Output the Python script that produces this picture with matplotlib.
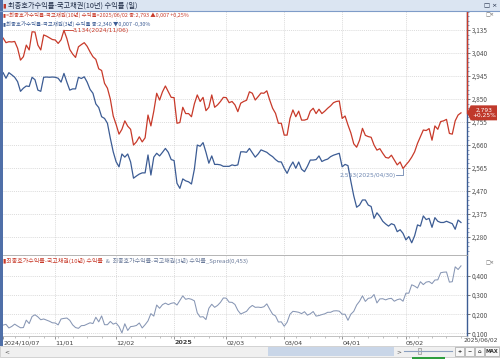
import numpy as np
import pandas as pd
import matplotlib
matplotlib.use("Agg")
import matplotlib.pyplot as plt
from matplotlib.patches import Rectangle, Polygon
from matplotlib.lines import Line2D
import matplotlib.ticker as mticker

plt.rcParams['font.family'] = ['Noto Sans CJK KR', 'DejaVu Sans']

# ---------------- data ----------------
holidays = ["2024-10-09", "2024-12-25", "2024-12-31", "2025-01-01", "2025-01-27",
            "2025-01-28", "2025-01-29", "2025-01-30", "2025-03-03", "2025-05-01",
            "2025-05-05", "2025-05-06"]
dates = [d for d in pd.bdate_range("2024-10-07", "2025-06-02")
         if d.strftime("%Y-%m-%d") not in holidays]

# KTB 10y final-quote yield (%)
ktb10 = [3.102, 3.083, 3.087, 3.086, 3.088, 3.060, 3.011, 3.025, 3.073, 3.053,
         3.128, 3.127, 3.073, 3.053, 3.115, 3.110, 3.103, 3.096, 3.094, 3.080,
         3.095, 3.134, 3.100, 3.055, 3.036, 3.022, 3.066, 3.075, 3.083, 3.068,
         3.045, 3.025, 3.014, 2.975, 2.968, 2.915, 2.895, 2.850, 2.780, 2.745,
         2.705, 2.725, 2.760, 2.738, 2.725, 2.660, 2.673, 2.694, 2.673, 2.690,
         2.784, 2.739, 2.800, 2.874, 2.846, 2.880, 2.904, 2.880, 2.857, 2.856,
         2.750, 2.753, 2.816, 2.790, 2.790, 2.777, 2.830, 2.867, 2.840, 2.857,
         2.802, 2.816, 2.867, 2.816, 2.826, 2.840, 2.857, 2.856, 2.835, 2.840,
         2.826, 2.798, 2.833, 2.840, 2.845, 2.880, 2.874, 2.846, 2.860, 2.875,
         2.874, 2.884, 2.846, 2.812, 2.791, 2.750, 2.750, 2.701, 2.701, 2.770,
         2.805, 2.777, 2.800, 2.763, 2.763, 2.767, 2.800, 2.812, 2.790, 2.808,
         2.790, 2.800, 2.812, 2.822, 2.835, 2.840, 2.842, 2.770, 2.780, 2.743,
         2.710, 2.665, 2.651, 2.680, 2.729, 2.700, 2.695, 2.692, 2.660, 2.639,
         2.645, 2.626, 2.609, 2.606, 2.618, 2.598, 2.578, 2.590, 2.563, 2.578,
         2.592, 2.610, 2.632, 2.667, 2.695, 2.722, 2.720, 2.728, 2.680, 2.739,
         2.725, 2.757, 2.760, 2.766, 2.708, 2.705, 2.760, 2.784, 2.793]

# KTB 3y final-quote yield (%)
ktb3 = [2.959, 2.936, 2.959, 2.950, 2.940, 2.922, 2.882, 2.895, 2.904, 2.902,
        2.940, 2.930, 2.887, 2.882, 2.940, 2.941, 2.940, 2.941, 2.940, 2.936,
        2.920, 2.956, 2.920, 2.887, 2.892, 2.892, 2.940, 2.935, 2.942, 2.920,
        2.890, 2.874, 2.830, 2.815, 2.777, 2.770, 2.750, 2.688, 2.632, 2.591,
        2.570, 2.623, 2.610, 2.623, 2.590, 2.523, 2.532, 2.540, 2.545, 2.545,
        2.619, 2.536, 2.610, 2.626, 2.615, 2.630, 2.646, 2.630, 2.600, 2.596,
        2.502, 2.481, 2.520, 2.512, 2.508, 2.499, 2.560, 2.660, 2.655, 2.670,
        2.630, 2.585, 2.615, 2.580, 2.580, 2.578, 2.572, 2.572, 2.572, 2.578,
        2.575, 2.578, 2.632, 2.632, 2.630, 2.646, 2.628, 2.610, 2.623, 2.640,
        2.635, 2.630, 2.620, 2.612, 2.600, 2.591, 2.590, 2.564, 2.543, 2.570,
        2.590, 2.564, 2.590, 2.560, 2.550, 2.572, 2.598, 2.598, 2.600, 2.615,
        2.592, 2.598, 2.602, 2.612, 2.618, 2.622, 2.626, 2.570, 2.580, 2.575,
        2.510, 2.450, 2.403, 2.412, 2.433, 2.433, 2.412, 2.406, 2.357, 2.380,
        2.365, 2.345, 2.334, 2.325, 2.335, 2.330, 2.302, 2.310, 2.295, 2.268,
        2.282, 2.256, 2.285, 2.330, 2.325, 2.367, 2.352, 2.357, 2.320, 2.360,
        2.345, 2.340, 2.340, 2.345, 2.340, 2.335, 2.312, 2.350, 2.340]

tick_dates = ["2024-10-07", "2024-11-01", "2024-12-02", "2025-01-02", "2025-02-03",
              "2025-03-04", "2025-04-01", "2025-05-02"]
tick_labels = ["2024/10/07", "11/01", "12/02", "2025", "02/03", "03/04", "04/01", "05/02"]
last_label = "2025/06/02"
yticks_main = [2.280, 2.375, 2.470, 2.565, 2.660, 2.755, 2.850, 2.945, 3.040, 3.135]
yticks_spread = [0.100, 0.200, 0.300, 0.400]

max_label = "3,134(2024/11/06)"
min_label = "2,563(2025/04/30)"
legend10 = "▮<최종호가수익률-국고채권(10년) 수익률>2025/06/02 종:2,793 ▲0,007 +0,25%"
legend3 = "▮최종호가수익률-국고채권(3년) 수익률 종:2,340 ▼0,007 -0,30%"
spread_leg_a = "▮최종호가수익률-국고채권(10년) 수익률"
spread_leg_b = "  &  최종호가수익률-국고채권(3년) 수익률_Spread(0,453)"
title = "최종호가수익률-국고채권(10년) 수익률 (일)"

assert len(dates) == len(ktb10) == len(ktb3)
n = len(dates)
xs = np.arange(n)
date_str = [d.strftime("%Y-%m-%d") for d in dates]
tick_idx = [date_str.index(t) for t in tick_dates]
spread = np.round(np.array(ktb10) - np.array(ktb3), 3)

# weekly minor ticks (first trading day of each week)
weeks = pd.Series([d.isocalendar()[1] for d in dates])
minor_idx = [i for i in range(1, n) if weeks[i] != weeks[i - 1]]

# ---------------- style ----------------
RED = "#c83a2a"
BLUE = "#3c5c94"
SPR = "#8796b4"
GRID = "#cfcfcf"
TXT = "#404040"
fmt = mticker.FuncFormatter(lambda v, p: f"{v:.3f}".replace(".", ","))

W, H = 500, 359
fig = plt.figure(figsize=(W / 100, H / 100), dpi=100)
fig.patch.set_facecolor("white")


def rect(x0, y0, x1, y1):
    return [x0 / W, 1 - y1 / H, (x1 - x0) / W, (y1 - y0) / H]


DX = 2.898
X0 = 3.1
xl = ((3 - X0) / DX, (467 - X0) / DX)

# ---------------- main panel ----------------
ax = fig.add_axes(rect(3, 11, 467, 254))
ax.set_xlim(*xl)
y_top = 2.280 + (237 - 11) / 242
y_bot = 2.280 - (254 - 237) / 242
ax.set_ylim(y_bot, y_top)
for s in ["left", "top", "bottom"]:
    ax.spines[s].set_visible(False)
ax.spines["right"].set_color(BLUE)
ax.spines["right"].set_linewidth(1.0)
ax.yaxis.tick_right()
ax.set_yticks(yticks_main)
ax.yaxis.set_major_formatter(fmt)
ax.yaxis.set_minor_locator(mticker.MultipleLocator(0.019))
ax.tick_params(axis="y", which="major", length=2.5, width=0.5, labelsize=4.6,
               colors=TXT, pad=0.8, labelcolor="#505050")
ax.tick_params(axis="y", which="minor", length=1.3, width=0.4, colors=BLUE)
ax.tick_params(axis="x", length=0, labelbottom=False)
ax.set_xticks(tick_idx[1:])
for yv in yticks_main:
    ax.axhline(yv, color=GRID, lw=0.5, ls=(0, (1.5, 1.5)), zorder=0)
for xv in tick_idx[1:]:
    ax.axvline(xv, color=GRID, lw=0.5, ls=(0, (1.5, 1.5)), zorder=0)

ax.plot(xs, ktb10, color=RED, lw=0.9, zorder=3)
ax.plot(xs, ktb3, color=BLUE, lw=0.9, zorder=3)

# red part of right axis line (above last value)
yt = ax.get_yaxis_transform()
ax.add_line(Line2D([1, 1], [ktb10[-1], y_top], transform=yt, color=RED, lw=1.0,
                   clip_on=False, zorder=5))

# last value marker
bw = 30 / 464
bh = 0.031
ax.add_patch(Polygon([[1.0, ktb10[-1]], [1.0 + 0.008, ktb10[-1] + bh], [1.0 + bw, ktb10[-1] + bh],
                      [1.0 + bw, ktb10[-1] - bh], [1.0 + 0.008, ktb10[-1] - bh]],
                     closed=True, transform=yt, facecolor="#c0392b", edgecolor="none",
                     clip_on=False, zorder=6))
ax.text(1.0 + bw / 2 + 0.004, ktb10[-1], "2,793\n+0,25%", transform=yt, color="white",
        fontsize=4.2, ha="center", va="center", linespacing=0.9, zorder=7,
        family=["DejaVu Sans"])

# max annotation
imax = int(np.argmax(ktb10))
ax.plot([imax, imax + 3], [ktb10[imax], ktb10[imax]], color=RED, lw=0.6)
ax.text(imax + 3.1, ktb10[imax], max_label, color=RED, fontsize=4.3, va="center",
        ha="left", family=["DejaVu Sans"])
# min annotation
imin = int(np.argmin(ktb10))
ymin_txt = ktb10[imin] - 0.027
ax.plot([imin - 2.5, imin, imin], [ymin_txt, ymin_txt, ktb10[imin]], color="#6d86b0", lw=0.6)
ax.text(imin - 2.6, ymin_txt, min_label, color="#6d86b0", fontsize=4.3, va="center",
        ha="right", family=["DejaVu Sans"])

# legends
ax.text(0.0, 0.983, legend10, transform=ax.transAxes, color=RED, fontsize=3.9,
        va="center", ha="left")
ax.text(0.0, 0.948, legend3, transform=ax.transAxes, color=BLUE, fontsize=3.9,
        va="center", ha="left")

# ---------------- spread panel ----------------
ax2 = fig.add_axes(rect(3, 255, 467, 336))
ax2.set_xlim(*xl)
s_top = 0.100 + (333.3 - 255) / 191
s_bot = 0.100 - (336 - 333.3) / 191
ax2.set_ylim(s_bot, s_top)
for s in ["left", "top"]:
    ax2.spines[s].set_visible(False)
ax2.spines["right"].set_color(BLUE)
ax2.spines["right"].set_linewidth(1.0)
ax2.spines["bottom"].set_color("#b8b8b8")
ax2.spines["bottom"].set_linewidth(0.6)
ax2.yaxis.tick_right()
ax2.set_yticks(yticks_spread)
ax2.yaxis.set_major_formatter(fmt)
ax2.tick_params(axis="y", length=2.5, width=0.5, labelsize=4.6, colors=TXT, pad=0.8,
                labelcolor="#505050")
ax2.set_xticks(tick_idx)
ax2.set_xticklabels(tick_labels)
ax2.set_xticks(minor_idx, minor=True)
ax2.tick_params(axis="x", which="major", length=2, width=0.5, colors="#707070",
                labelsize=4.6, pad=1.2, labelcolor="#404040")
ax2.tick_params(axis="x", which="minor", length=1.3, width=0.4, colors="#909090")
for lab in ax2.get_xticklabels():
    lab.set_ha("left")
    lab.set_family(["DejaVu Sans"])
    if lab.get_text() == "2025":
        lab.set_fontweight("bold")
for yv in yticks_spread:
    ax2.axhline(yv, color=GRID, lw=0.5, ls=(0, (1.5, 1.5)), zorder=0)
for xv in tick_idx[1:]:
    ax2.axvline(xv, color=GRID, lw=0.5, ls=(0, (1.5, 1.5)), zorder=0)
ax2.plot(xs, spread, color=SPR, lw=0.75, zorder=3)
fig.text(498 / W, 1 - 337.5 / H, last_label, fontsize=4.3, color="#404040",
         ha="right", va="top", family=["DejaVu Sans"])

ta = ax2.text(0.0, 0.93, spread_leg_a, transform=ax2.transAxes, color=RED, fontsize=4.3,
              va="center", ha="left")
fig.canvas.draw()
bb = ta.get_window_extent().transformed(ax2.transAxes.inverted())
ax2.text(bb.x1, 0.93, spread_leg_b, transform=ax2.transAxes, color="#6a7a9a", fontsize=4.3,
         va="center", ha="left")

# separator between panels
fig.add_artist(Line2D([3 / W, 467 / W], [1 - 254.5 / H, 1 - 254.5 / H], color="#a8a8a8", lw=0.6))

# ---------------- window chrome ----------------
fig.add_artist(Rectangle((0, 1 - 11 / H), 1, 11 / H, transform=fig.transFigure,
                         facecolor="#dbe5f2", edgecolor="none"))
fig.add_artist(Line2D([0, 1], [1 - 11 / H, 1 - 11 / H], color="#7f9cc8", lw=0.8))
fig.text(8 / W, 1 - 5.5 / H, title, fontsize=5.2, color="#1d2a44", va="center", ha="left")
fig.text(2.5 / W, 1 - 5.5 / H, "▮", fontsize=4.6, color="#c0392b", va="center", ha="left")
fig.text(484 / W, 1 - 5.5 / H, "□ ×", fontsize=4.6, color="#1d2a44", va="center", ha="left",
         family=["DejaVu Sans"])
fig.text(486 / W, 1 - 15 / H, "□×", fontsize=3.6, color="#606060", va="center", ha="left",
         family=["DejaVu Sans"])
fig.text(486 / W, 1 - 263 / H, "□×", fontsize=3.6, color="#606060", va="center", ha="left",
         family=["DejaVu Sans"])
fig.add_artist(Rectangle((0, 1 - 346 / H), 3 / W, 346 / H, transform=fig.transFigure,
                         facecolor="#4f6fa8", edgecolor="none"))

# scrollbar
fig.add_artist(Rectangle((0, 1 - 357 / H), 1, 11 / H, transform=fig.transFigure,
                         facecolor="#f0f0f0", edgecolor="#c4c4c4", lw=0.5))
fig.add_artist(Rectangle((268 / W, 1 - 356 / H), 126 / W, 9 / H, transform=fig.transFigure,
                         facecolor="#c9d6e8", edgecolor="none"))
fig.text(4 / W, 1 - 351.5 / H, "<", fontsize=4.2, color="#505050", va="center",
         family=["DejaVu Sans"])
fig.text(396 / W, 1 - 351.5 / H, ">", fontsize=4.2, color="#505050", va="center",
         family=["DejaVu Sans"])
fig.add_artist(Line2D([404 / W, 452 / W], [1 - 351 / H, 1 - 351 / H], color="#8aa0c0", lw=0.8))
fig.add_artist(Rectangle((418 / W, 1 - 354 / H), 3 / W, 6 / H, transform=fig.transFigure,
                         facecolor="#e8e8e8", edgecolor="#808080", lw=0.4))
for k, b in enumerate(["+", "−", "⌂", "MAX"]):
    x0 = [455, 465, 475, 485][k]
    w = [9, 9, 9, 14][k]
    fig.add_artist(Rectangle((x0 / W, 1 - 356 / H), w / W, 9 / H, transform=fig.transFigure,
                             facecolor="#f8f8f8", edgecolor="#909090", lw=0.4))
    fig.text((x0 + w / 2) / W, 1 - 351.5 / H, b, fontsize=3.6, color="#303030", ha="center",
             va="center", family=["DejaVu Sans"], fontweight="bold")
fig.add_artist(Rectangle((412 / W, 0), 33 / W, 2 / H, transform=fig.transFigure,
                         facecolor="#2e9e3e", edgecolor="none"))

fig.savefig("out.png", dpi=100)
